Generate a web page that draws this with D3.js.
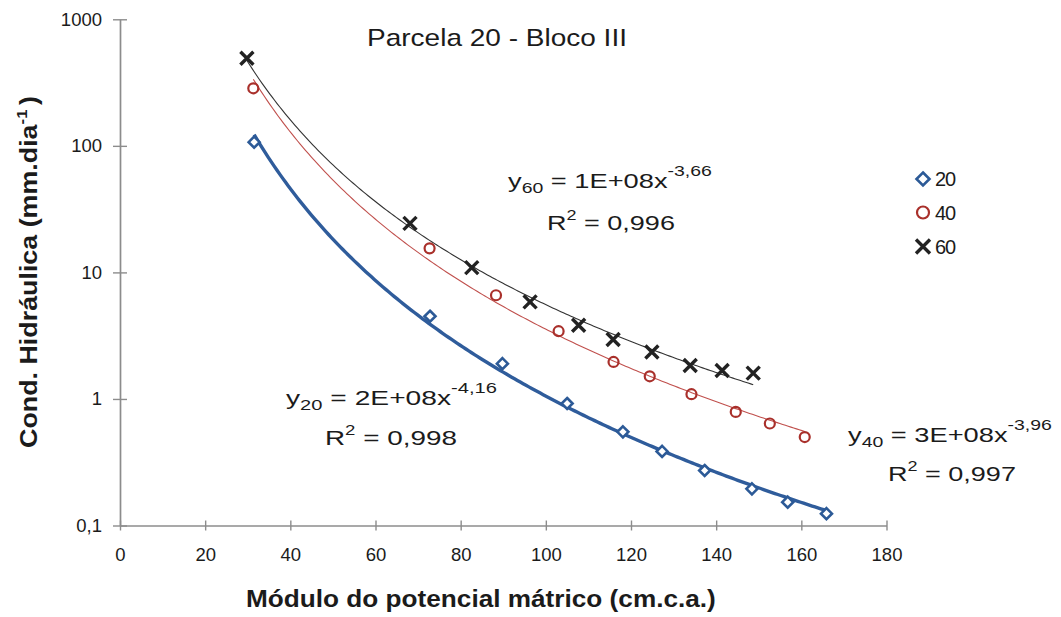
<!DOCTYPE html>
<html>
<head>
<meta charset="utf-8">
<script src="https://cdn.jsdelivr.net/npm/d3@7/dist/d3.min.js"></script>
<style>
  body { margin: 0; background: #fff; }
  svg { display: block; }
  text { font-family: "Liberation Sans", Arial, sans-serif; fill: #1b1b1b; }
</style>
</head>
<body>
<svg id="chart" width="1061" height="617"></svg>
<script>
// ---- data ----
const xTicks = [0, 20, 40, 60, 80, 100, 120, 140, 160, 180];
const xTickLabels = ["0", "20", "40", "60", "80", "100", "120", "140", "160", "180"];
const yTicks = [0.1, 1, 10, 100, 1000];
const yTickLabels = ["0,1", "1", "10", "100", "1000"];

const seriesNames = ["20", "40", "60"];

const x20 = [31.5, 72.8, 89.8, 105.0, 118.1, 127.3, 137.3, 148.4, 156.8, 165.9];
const y20 = [107, 4.5, 1.9, 0.92, 0.55, 0.385, 0.272, 0.195, 0.153, 0.124];

const x40 = [31.3, 72.7, 88.3, 103.0, 115.9, 124.4, 134.2, 144.6, 152.6, 160.8];
const y40 = [285, 15.5, 6.6, 3.43, 1.96, 1.51, 1.09, 0.79, 0.64, 0.50];

const x60 = [29.8, 68.1, 82.6, 96.3, 107.7, 115.8, 124.9, 133.9, 141.4, 148.7];
const y60 = [492, 24.4, 10.9, 5.85, 3.82, 2.95, 2.35, 1.84, 1.68, 1.60];

const eqCoef = ["2E+08x", "3E+08x", "1E+08x"];
const eqExp = ["-4,16", "-3,96", "-3,66"];
const eqR2 = ["0,998", "0,997", "0,996"];

const titleText = "Parcela 20 - Bloco III";
const xTitleText = "Módulo do potencial mátrico (cm.c.a.)";
const yTitleText = "Cond. Hidráulica (mm.dia";

// ---- layout ----
const svg = d3.select("#chart");
const x = d3.scaleLinear().domain([0, 180]).range([120, 886.5]);
const y = d3.scaleLog().domain([0.1, 1000]).range([525.5, 19.3]);
const axisColor = "#8c8c8c";

const styles = [
  { marker: "diamond", stroke: "#2c5a97", line: "#2f5c9b", lineWidth: 3.4 },
  { marker: "circle", stroke: "#a9302b", line: "#c0504d", lineWidth: 1.1 },
  { marker: "cross", stroke: "#222", line: "#333", lineWidth: 1.1 }
];

const series = [
  { xs: x20, ys: y20 },
  { xs: x40, ys: y40 },
  { xs: x60, ys: y60 }
];

// Stretch a text group horizontally so it spans the wanted width
function fitGroup(g, tx, ty, width, rotate) {
  const w = g.select("text").node().getBBox().width;
  const s = width / w;
  g.attr("transform", `translate(${tx},${ty})` + (rotate ? ` rotate(${rotate})` : "") + ` scale(${s},1)`);
}

// ---- axes ----
const yAxis = svg.append("g")
  .attr("transform", `translate(${x(0)},0)`)
  .call(d3.axisLeft(y).tickValues(yTicks)
    .tickFormat((d, i) => yTickLabels[i])
    .tickSize(7).tickSizeOuter(0).tickPadding(11));
yAxis.selectAll(".tick line").attr("x1", 7);
yAxis.selectAll(".tick text").attr("font-size", 18.5).attr("font-family", "Liberation Sans, Arial, sans-serif").style("fill", "#1b1b1b");

const xAxis = svg.append("g")
  .attr("transform", `translate(0,${y(0.1)})`)
  .call(d3.axisBottom(x).tickValues(xTicks)
    .tickFormat((d, i) => xTickLabels[i])
    .tickSize(5).tickSizeOuter(0).tickPadding(17));
xAxis.selectAll(".tick line").attr("y1", -5);
xAxis.selectAll(".tick text").attr("font-size", 18.5).attr("font-family", "Liberation Sans, Arial, sans-serif").style("fill", "#1b1b1b");

svg.selectAll(".domain").attr("stroke", axisColor).attr("stroke-width", 1.7);
svg.selectAll(".tick line").attr("stroke", axisColor).attr("stroke-width", 1.4);

// ---- power trendlines (least squares in log-log space) ----
function powerFit(xs, ys) {
  const lx = xs.map(Math.log), ly = ys.map(Math.log);
  const mx = d3.mean(lx), my = d3.mean(ly);
  const b = d3.sum(lx, (v, i) => (v - mx) * (ly[i] - my)) / d3.sum(lx, v => (v - mx) ** 2);
  const a = Math.exp(my - b * mx);
  return { a, b };
}

const lineGen = d3.line().x(d => x(d[0])).y(d => y(d[1])).curve(d3.curveLinear);

series.forEach((s, i) => {
  const f = powerFit(s.xs, s.ys);
  const x0 = d3.min(s.xs), x1 = d3.max(s.xs);
  const pts = d3.range(0, 201).map(k => {
    const xv = x0 + (x1 - x0) * k / 200;
    return [xv, f.a * Math.pow(xv, f.b)];
  });
  svg.append("path")
    .attr("d", lineGen(pts))
    .attr("fill", "none")
    .attr("stroke", styles[i].line)
    .attr("stroke-width", styles[i].lineWidth);
});

// ---- markers ----
function drawMarker(g, kind, cx, cy, size, st) {
  if (kind === "diamond") {
    const r = size / 2;
    g.append("path")
      .attr("d", `M${cx},${cy - r}L${cx + r},${cy}L${cx},${cy + r}L${cx - r},${cy}Z`)
      .attr("fill", "#fff").attr("stroke", st.stroke).attr("stroke-width", 2.6);
  } else if (kind === "circle") {
    g.append("circle").attr("cx", cx).attr("cy", cy).attr("r", size / 2 - 1)
      .attr("fill", "none").attr("stroke", st.stroke).attr("stroke-width", 2.2);
  } else {
    const r = size / 2 - 1;
    g.append("path")
      .attr("d", `M${cx - r},${cy - r}L${cx + r},${cy + r}M${cx - r},${cy + r}L${cx + r},${cy - r}`)
      .attr("stroke", st.stroke).attr("stroke-width", 3.4).attr("fill", "none");
  }
}

const markerSizes = [11, 12, 15];
series.forEach((s, i) => {
  const g = svg.append("g");
  s.xs.forEach((xv, j) => drawMarker(g, styles[i].marker, x(xv), y(s.ys[j]), markerSizes[i], styles[i]));
});

// ---- legend ----
const legendRows = [179, 212.5, 246.5];
seriesNames.forEach((name, i) => {
  const g = svg.append("g");
  drawMarker(g, styles[i].marker, 923, legendRows[i], [13, 14, 16][i], styles[i]);
  g.append("text").attr("x", 935).attr("y", legendRows[i] + 7)
    .attr("font-size", 20).attr("letter-spacing", -1.2).text(name);
});

// ---- title and axis titles ----
{
  const g = svg.append("g");
  g.append("text").attr("font-size", 24).text(titleText);
  fitGroup(g, 367, 46, 260);
}
{
  const g = svg.append("g");
  g.append("text").attr("font-size", 24).attr("font-weight", "bold").text(xTitleText);
  fitGroup(g, 246, 606.5, 470);
}
{
  const g = svg.append("g");
  const t = g.append("text").attr("font-size", 24).attr("font-weight", "bold");
  t.append("tspan").text(yTitleText);
  t.append("tspan").attr("font-size", 15).attr("dy", -10).text("-1");
  t.append("tspan").attr("dy", 10).attr("dx", 4).text(")");
  fitGroup(g, 37, 448, 352, -90);
}

// ---- equation labels ----
const eqPos = [
  { x: 286, y: 405, w: 211, rx: 325, ry: 445, rw: 132 },
  { x: 848, y: 442, w: 204, rx: 888, ry: 481, rw: 128 },
  { x: 508, y: 188, w: 204, rx: 547, ry: 230, rw: 128 }
];
eqCoef.forEach((coef, i) => {
  const p = eqPos[i];
  const g1 = svg.append("g");
  const t1 = g1.append("text").attr("font-size", 21);
  t1.append("tspan").text("y");
  t1.append("tspan").attr("font-size", 15).attr("dy", 5).text(seriesNames[i]);
  t1.append("tspan").attr("dy", -5).text(" = " + coef);
  t1.append("tspan").attr("font-size", 15).attr("dy", -12).text(eqExp[i]);
  fitGroup(g1, p.x, p.y, p.w);

  const g2 = svg.append("g");
  const t2 = g2.append("text").attr("font-size", 21);
  t2.append("tspan").text("R");
  t2.append("tspan").attr("font-size", 14).attr("dy", -10).text("2");
  t2.append("tspan").attr("dy", 10).text(" = " + eqR2[i]);
  fitGroup(g2, p.rx, p.ry, p.rw);
});
</script>
</body>
</html>
